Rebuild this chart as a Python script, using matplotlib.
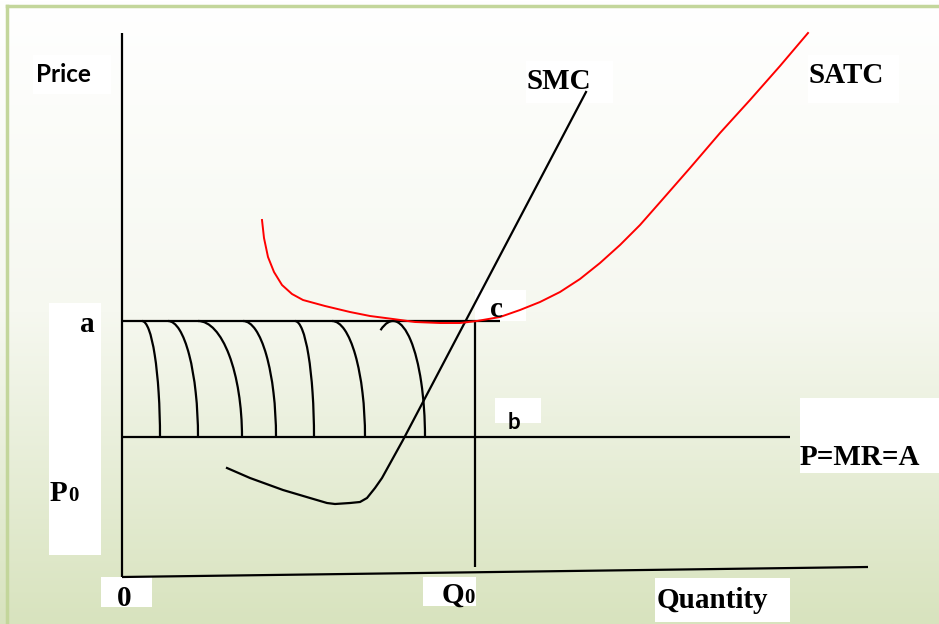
import numpy as np
import matplotlib
matplotlib.use("Agg")
import matplotlib.pyplot as plt
from matplotlib.patches import Rectangle, Arc
from matplotlib.colors import LinearSegmentedColormap

# everything in pixel-like units (y grows downwards)
smc_x = [227, 250, 283, 310, 327, 335, 350, 360, 367, 375, 382, 403, 586]
smc_y = [468, 478, 490, 498, 503, 504, 503, 502, 498, 488, 478, 440, 92]

satc_x = [262, 264, 268, 274, 282, 292, 303, 325, 350, 370, 393, 415, 440, 460,
          477, 500, 520, 540, 560, 580, 600, 620, 640, 662, 690, 720, 750, 780, 808]
satc_y = [220, 238, 257, 272, 285, 294, 300, 306, 312, 316, 319, 322, 323, 323,
          321, 317, 310, 302, 292, 279, 263, 245, 225, 200, 168, 133, 100, 66, 33]

price_a = 321
price_p0 = 437
q0 = 475
cost_line_end = 500
mr_line_end = 790
y_axis_top = 33
origin = (122, 577)
x_axis_end = (868, 567)

# little hand drawn arcs between the two price lines
arc_start = [142, 168, 198, 243, 295, 332, 393]
arc_end = [160, 198, 242, 276, 314, 365, 425]
arc_hook = [0, 0, 0, 0, 0, 0, 23]

# white label boxes: x0, y0, x1, y1
boxes = [(33, 55, 111, 94), (526, 61, 613, 103), (808, 55, 899, 103),
         (49, 303, 101, 555), (475, 290, 526, 321), (495, 398, 541, 423),
         (800, 398, 939, 473), (101, 577, 152, 607), (423, 577, 476, 606),
         (655, 578, 790, 622)]

serif_labels = ["SMC", "SATC", "a", "c", "P=MR=A", "0", "Quantity", "P", "Q"]
serif_x = [527, 809, 80, 490, 800, 117, 657, 50, 442]
serif_y = [89, 83, 332, 317, 465, 606, 608, 501, 603]

sub_labels = ["0", "0"]
sub_x = [68, 464]
sub_y = [501, 603]

fig = plt.figure(figsize=(9.39, 6.24), dpi=100)
ax = fig.add_axes([0, 0, 1, 1])
ax.set_xlim(0, 939)
ax.set_ylim(624, 0)
ax.axis("off")

bg = LinearSegmentedColormap.from_list("bg", ["#ffffff", "#f6f8f0", "#d8e3be"])
ax.imshow(np.linspace(0, 1, 256).reshape(-1, 1), extent=[0, 939, 624, 0],
          cmap=bg, aspect="auto", zorder=0)

# frame of the slide
ax.plot([7, 939], [6, 6], color="#c3d69b", lw=2.5, zorder=1)
ax.plot([7, 7], [6, 624], color="#c3d69b", lw=2.5, zorder=1)

for x0, y0, x1, y1 in boxes:
    ax.add_patch(Rectangle((x0, y0), x1 - x0, y1 - y0, color="white", lw=0, zorder=2))

k = dict(color="black", lw=1.6, zorder=3, solid_capstyle="butt")
ax.plot([origin[0], origin[0]], [y_axis_top, origin[1]], **k)
ax.plot([origin[0], x_axis_end[0]], [origin[1], x_axis_end[1]], **k)
ax.plot([origin[0], cost_line_end], [price_a, price_a], **k)
ax.plot([origin[0], mr_line_end], [price_p0, price_p0], **k)
ax.plot([q0, q0], [price_a, x_axis_end[1]], **k)

h = price_p0 - price_a
for xs, xe, hook in zip(arc_start, arc_end, arc_hook):
    w = xe - xs
    # Arc wants the geometric angle, the hook is read as a parametric one
    p = np.deg2rad(270 - hook)
    start = np.rad2deg(np.arctan2(h * np.sin(p), w * np.cos(p))) % 360
    ax.add_patch(Arc((xs, price_p0), 2 * w, 2 * h, theta1=start,
                     theta2=360, color="black", lw=1.6, zorder=3))

ax.plot(smc_x, smc_y, color="black", lw=1.6, zorder=4)
ax.plot(satc_x, satc_y, color="red", lw=1.4, zorder=4)

for s, x, y in zip(serif_labels, serif_x, serif_y):
    ax.text(x, y, s, family="Liberation Serif", weight="bold", fontsize=21,
            ha="left", va="baseline", zorder=5)
for s, x, y in zip(sub_labels, sub_x, sub_y):
    ax.text(x, y, s, family="Liberation Serif", weight="bold", fontsize=15,
            ha="left", va="baseline", zorder=5)

ax.text(36, 82, "Price", family="Lato", weight="bold", fontsize=17.5,
        ha="left", va="baseline", zorder=5)
b_box = Rectangle((495, 398), 46, 25, transform=ax.transData)
t = ax.text(508, 429, "b", family="Lato", weight="bold", fontsize=16,
            ha="left", va="baseline", zorder=5)
t.set_clip_path(b_box)

fig.savefig("out.png", dpi=100)
